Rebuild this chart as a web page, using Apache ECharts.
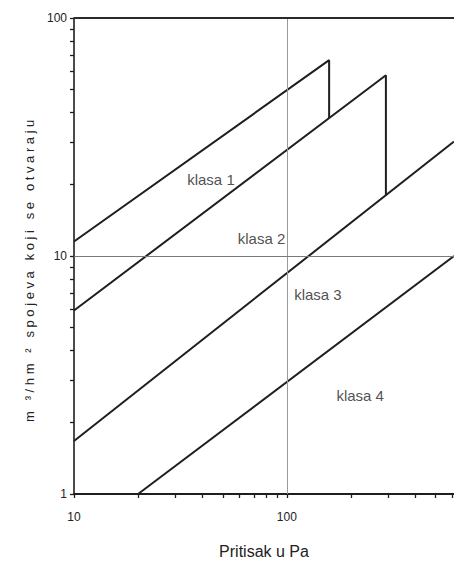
<!DOCTYPE html>
<html>
<head>
<meta charset="utf-8">
<script src="https://cdn.jsdelivr.net/npm/echarts@6/dist/echarts.min.js"></script>
<style>
  html, body { margin: 0; padding: 0; background: #ffffff; }
  #chart { width: 454px; height: 568px; }
</style>
</head>
<body>
<div id="chart"></div>
<script>
// Air permeability class boundaries: [pressure (Pa), flow (m³/hm²)]
const class1Edge = [[10, 11.5], [158, 66.5], [158, 38]];
const class2Edge = [[10, 5.9], [292, 57.5], [292, 18]];
const class3Edge = [[10, 1.67], [610, 30.3]];
const class4Edge = [[20, 1], [610, 10]];

// Class names and where each one sits between the boundaries
const classNames = ['klasa 1', 'klasa 2', 'klasa 3', 'klasa 4'];
const classNamePressure = [44, 76, 140, 221];
const classNameFlow = [20.9, 11.8, 6.9, 2.6];

// Axis ranges and ticks
const pressureRange = [10, 610];
const flowRange = [1, 100];
const pressureLabels = [10, 100];
const flowLabels = [1, 10, 100];
const pressureTicks = [10, 20, 30, 40, 50, 60, 70, 80, 90, 100, 200, 300, 400, 500, 600];
const flowTicks = [1, 2, 3, 4, 5, 6, 7, 8, 9, 10, 20, 30, 40, 50, 60, 70, 80, 90, 100];

const xTitle = 'Pritisak u Pa';
const yTitle = 'm \u00b3/hm \u00b2 spojeva koji se otvaraju';

const labelFont = '"Liberation Sans", Arial, sans-serif';
const ink = '#1e1e1e';
const textInk = '#222222';

const chart = echarts.init(document.getElementById('chart'), null, { renderer: 'svg' });

const lg = Math.log10;
const decadeLabel = v => String(Math.round(Math.pow(10, v)));

const edgeSeries = [class1Edge, class2Edge, class3Edge, class4Edge].map((edge, i) => ({
  type: 'line',
  xAxisIndex: 0,
  yAxisIndex: 0,
  data: edge,
  showSymbol: false,
  symbol: 'none',
  lineStyle: { color: ink, width: 2 },
  z: 3,
  markLine: i === 0 ? {
    silent: true,
    symbol: 'none',
    label: { show: false },
    animation: false,
    data: [
      { xAxis: 100, lineStyle: { color: '#9a9a9a', width: 1, type: 'solid' } },
      { yAxis: 10, lineStyle: { color: '#7a7a7a', width: 1, type: 'solid' } },
      { yAxis: 100, lineStyle: { color: '#2a2a2a', width: 2, type: 'solid' } }
    ]
  } : undefined
}));

chart.setOption({
  animation: false,
  backgroundColor: '#ffffff',
  grid: { left: 74, right: 0, top: 18, bottom: 74, containLabel: false },
  xAxis: [
    {
      type: 'log', logBase: 10, min: pressureRange[0], max: pressureRange[1], show: false
    },
    {
      type: 'value', position: 'bottom',
      min: lg(pressureRange[0]), max: lg(pressureRange[1]),
      axisLine: { show: true, onZero: false, lineStyle: { color: ink, width: 2 } },
      axisTick: { show: true, customValues: pressureTicks.map(lg), length: 4, lineStyle: { color: ink, width: 1.3 } },
      axisLabel: {
        customValues: pressureLabels.map(lg), formatter: decadeLabel,
        fontFamily: labelFont, fontSize: 12, color: textInk, margin: 17
      },
      splitLine: { show: false },
      name: xTitle, nameLocation: 'middle', nameGap: 49,
      nameTextStyle: { fontFamily: labelFont, fontSize: 16, color: textInk }
    }
  ],
  yAxis: [
    {
      type: 'log', logBase: 10, min: flowRange[0], max: flowRange[1], show: false
    },
    {
      type: 'value', position: 'left',
      min: lg(flowRange[0]), max: lg(flowRange[1]),
      axisLine: { show: true, onZero: false, lineStyle: { color: ink, width: 1.6 } },
      axisTick: { show: true, customValues: flowTicks.map(lg), length: 4, lineStyle: { color: ink, width: 1.3 } },
      axisLabel: {
        customValues: flowLabels.map(lg), formatter: decadeLabel,
        fontFamily: labelFont, fontSize: 12, color: textInk, margin: 7
      },
      splitLine: { show: false }
    }
  ],
  graphic: [
    {
      type: 'text', x: 29, y: 269, rotation: Math.PI / 2, silent: true,
      style: {
        text: yTitle,
        fontFamily: labelFont,
        fontSize: 13,
        fill: textInk,
        align: 'center', verticalAlign: 'middle',
        textAlign: 'center', textVerticalAlign: 'middle'
      }
    }
  ],
  series: edgeSeries.concat([
    {
      type: 'scatter',
      xAxisIndex: 0,
      yAxisIndex: 0,
      symbolSize: 0,
      silent: true,
      data: classNames.map((name, i) => ({ name: name, value: [classNamePressure[i], classNameFlow[i]] })),
      label: {
        show: true, position: 'inside',
        formatter: p => p.name,
        fontFamily: labelFont, fontSize: 15, color: textInk
      },
      z: 4
    }
  ])
});

// Spread the letters of the vertical title
function spaceTitle() {
  document.querySelectorAll('#chart svg text').forEach(t => {
    if (t.textContent === yTitle) t.setAttribute('letter-spacing', '3.6px');
  });
}
chart.on('finished', spaceTitle);
setTimeout(spaceTitle, 30);
</script>
</body>
</html>
